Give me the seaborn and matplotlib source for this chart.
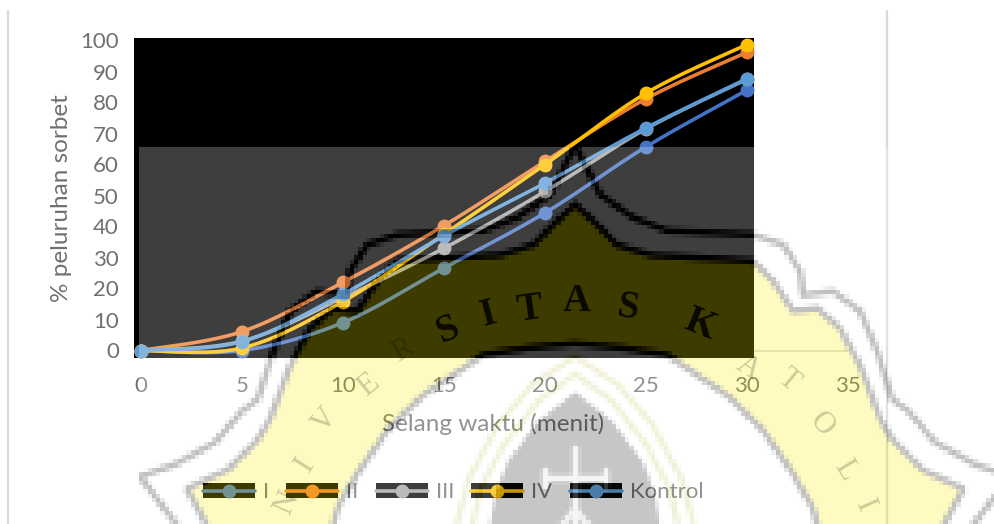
import math
import numpy as np
import pandas as pd
import matplotlib
matplotlib.use("Agg")
import matplotlib.pyplot as plt
import seaborn as sns
from matplotlib.backends.backend_agg import FigureCanvasAgg
from matplotlib.figure import Figure
from matplotlib.legend_handler import HandlerBase
from matplotlib.lines import Line2D
from matplotlib.patches import Polygon, Rectangle
from matplotlib.transforms import Affine2D

# Sorbate decay readings
minutes = [0, 5, 10, 15, 20, 25, 30]
series_names = ["I", "II", "III", "IV", "Kontrol"]
decay_i = [0, 0, 9, 26.6, 44.4, 65.7, 84]
decay_ii = [0, 6.1, 22, 40.3, 61, 81.2, 96.2]
decay_iii = [0, 3, 17, 33, 51.3, 71.5, 87.5]
decay_iv = [0, 0.8, 15.8, 37.5, 60, 83, 98.7]
decay_kontrol = [0, 2.9, 18.2, 37, 54, 71.8, 87.7]
series_values = [decay_i, decay_ii, decay_iii, decay_iv, decay_kontrol]
series_colors = ["#4472C4", "#ED7D31", "#A5A5A5", "#FFC000", "#5B9BD5"]

y_ticks = list(range(0, 101, 10))
x_ticks = list(range(0, 36, 5))

W, H = 995, 524
TEXT = "#707070"

sns.set_theme(style="white")
plt.rcParams["font.family"] = ["Lato", "DejaVu Sans"]


def smooth(xs, ys, per_span=24):
    """Office-style smoothed curve through the readings (Catmull-Rom)."""
    xs, ys = np.asarray(xs, float), np.asarray(ys, float)
    px = np.r_[xs[0], xs, xs[-1]]
    py = np.r_[ys[0], ys, ys[-1]]
    out_x, out_y = [], []
    for i in range(1, len(px) - 2):
        t = np.linspace(0, 1, per_span, endpoint=False)[:, None]
        basis = np.hstack([-t**3 + 2*t**2 - t, 3*t**3 - 5*t**2 + 2,
                           -3*t**3 + 4*t**2 + t, t**3 - t**2]) / 2
        out_x.append(basis @ px[i-1:i+3])
        out_y.append(basis @ py[i-1:i+3])
    return np.r_[np.concatenate(out_x), xs[-1]], np.r_[np.concatenate(out_y), ys[-1]]


class KeyOnBlack(HandlerBase):
    """Legend key: line and marker over a black swatch."""
    def create_artists(self, legend, orig, xd, yd, width, height, fontsize, trans):
        box = Rectangle((-xd, -yd), width, height, fc="black", ec="none", transform=trans)
        mid = -yd + height / 2
        line = Line2D([-xd, -xd + width], [mid, mid], color=orig.get_color(),
                      lw=orig.get_linewidth(), transform=trans)
        dot = Line2D([-xd + width / 2], [mid], marker="o", ms=orig.get_markersize(),
                     mfc=orig.get_color(), mec="none", ls="none", transform=trans)
        return [box, line, dot]


def campus_crest(scale=4.3):
    """Institution crest, drawn small so it enlarges into coarse blocks."""
    x0, x1, y0, y1 = 139, W, 147, H
    small = Figure(figsize=((x1 - x0) / scale / 100, (y1 - y0) / scale / 100), dpi=100)
    FigureCanvasAgg(small)
    c = small.add_axes([0, 0, 1, 1])
    c.set_xlim(x0, x1)
    c.set_ylim(y1, y0)
    c.axis("off")
    lw = 6.0 / scale * 0.72

    def mirrored(half):
        return [(1150 - a, b) for a, b in reversed(half)]

    outer = [(575, 148), (600, 197), (633, 220), (667, 233), (753, 237), (783, 247),
             (800, 273), (803, 297), (833, 293), (860, 313), (877, 353), (892, 400),
             (908, 412), (935, 443), (975, 465), (1010, 477), (965, 535)]
    inner = [(575, 207), (593, 223), (617, 247), (650, 257), (753, 263), (773, 283),
             (793, 313), (817, 310), (840, 330), (860, 367), (880, 420), (892, 440),
             (922, 470), (963, 489), (938, 535)]
    lower = [(820, 535), (812, 507), (792, 473), (762, 430), (728, 397), (695, 375),
             (667, 356), (620, 349), (575, 345)]

    band = inner + lower + mirrored(lower)[1:] + mirrored(inner)[:-1]
    c.add_patch(Polygon(band, closed=True, fc="#FFF000", ec="black", lw=lw))
    c.plot(*zip(*(mirrored(outer) + outer[1:])), color="black", lw=lw)

    arch_gray = [(575, 393), (613, 423), (643, 463), (655, 495), (662, 535)]
    arch_mid = [(575, 375), (612, 402), (646, 445), (670, 490), (680, 535)]
    arch_top = [(575, 358), (617, 385), (652, 425), (682, 480), (696, 535)]
    c.add_patch(Polygon(mirrored(arch_gray) + arch_gray[1:], closed=True, fc="#1c1c20", ec="none"))
    for arch in (arch_mid, arch_top):
        c.plot(*zip(*(mirrored(arch) + arch[1:])), color="#C8C860", lw=lw * 0.9)

    for seg in ([(575, 447), (575, 530)], [(543, 478), (605, 478)],
                [(543, 470), (543, 486)], [(605, 470), (605, 486)],
                [(557, 530), (575, 510)], [(593, 530), (575, 510)]):
        c.plot(*zip(*seg), color="#D8D8D8", lw=lw * 1.0)

    small.canvas.draw()
    return np.asarray(small.canvas.buffer_rgba()), (x0, x1, y1, y0)


fig = plt.figure(figsize=(W / 100, H / 100), dpi=100, facecolor="white")
ax = fig.add_axes([141 / W, 1 - 350.5 / H, 707 / W, 310 / H], facecolor="none")
to_px = Affine2D().scale(1 / W, -1 / H).translate(0, 1) + fig.transFigure

# Black plot panel and chart frame edges
ax.add_patch(Rectangle((134, 38), 620, 320, fc="black", ec="none", transform=to_px,
                       clip_on=False, zorder=0.5))
for frame_x in (8, 887):
    ax.add_line(Line2D([frame_x, frame_x], [11, H], color="#D9D9D9", lw=1.6,
                       transform=to_px, clip_on=False, zorder=0.4))

for k, (name, vals, col) in enumerate(zip(series_names, series_values, series_colors)):
    cx, cy = smooth(minutes, vals)
    curve = pd.DataFrame({"menit": cx, "peluruhan": cy})
    sns.lineplot(data=curve, x="menit", y="peluruhan", color=col, lw=2.6, ax=ax,
                 estimator=None, sort=False, clip_on=False, zorder=2 + k * 0.1)
    sns.scatterplot(x=minutes, y=vals, color=col, s=100, linewidth=0, ax=ax,
                    clip_on=False, zorder=2.05 + k * 0.1)

ax.set_xlim(0, 35)
ax.set_ylim(0, 100)
ax.set_xticks(x_ticks)
ax.set_yticks(y_ticks)
ax.tick_params(axis="both", length=0, labelsize=16, labelcolor=TEXT)
ax.tick_params(axis="x", pad=18)
ax.tick_params(axis="y", pad=16)
for side in ("top", "left", "right"):
    ax.spines[side].set_visible(False)
ax.spines["bottom"].set_color("#D9D9D9")
ax.spines["bottom"].set_linewidth(1.2)
ax.spines["bottom"].set_zorder(0.4)

ax.set_xlabel("Selang waktu (menit)", fontsize=17.5, color=TEXT, va="center")
ax.set_ylabel("% peluruhan sorbet", fontsize=17.5, color=TEXT, va="center")
ax.xaxis.set_label_coords((493 - 141) / 707, (350.5 - 424) / 310)
ax.yaxis.set_label_coords((62 - 141) / 707, (350.5 - 198) / 310)

handles = [Line2D([], [], color=c, lw=2.6, marker="o", ms=10) for c in series_colors]
ax.legend(handles, series_names, handler_map={Line2D: KeyOnBlack()}, ncols=5, frameon=False,
          loc="center", bbox_to_anchor=(453 / W, 1 - 492.5 / H), bbox_transform=fig.transFigure,
          fontsize=16, labelcolor=TEXT, handlelength=2.34, handleheight=0.68,
          handletextpad=0.36, columnspacing=0.78, borderpad=0, borderaxespad=0)

# Translucent crest over the whole lower part of the page
over = fig.add_axes([0, 0, 1, 1], facecolor="none", zorder=5)
crest, extent = campus_crest()
over.imshow(crest, extent=extent, alpha=0.25, interpolation="nearest", aspect="auto", zorder=1)
over.set_xlim(0, W)
over.set_ylim(H, 0)
over.axis("off")

crest_letters = [("N", 287, 503), ("I", 305, 465), ("V", 325, 421), ("E", 368, 385),
                 ("R", 403, 350), ("S", 448, 330), ("I", 488, 315), ("T", 530, 310),
                 ("A", 577, 302), ("S", 628, 308), ("K", 700, 325), ("A", 748, 368),
                 ("T", 788, 380), ("O", 822, 425), ("L", 845, 470), ("I", 865, 506)]
for ch, lx, ly in crest_letters:
    turn = math.degrees(math.atan2(575 - lx, 634 - ly))
    on_panel = ly < 345 and lx < 754
    over.text(lx, ly, ch, family="Liberation Serif", fontsize=28 if on_panel else 22,
              weight="bold" if on_panel else "normal",
              color="black", alpha=0.85 if on_panel else 0.2, rotation=turn,
              rotation_mode="anchor", ha="center", va="center", zorder=2)

fig.savefig("out.png", dpi=100)
